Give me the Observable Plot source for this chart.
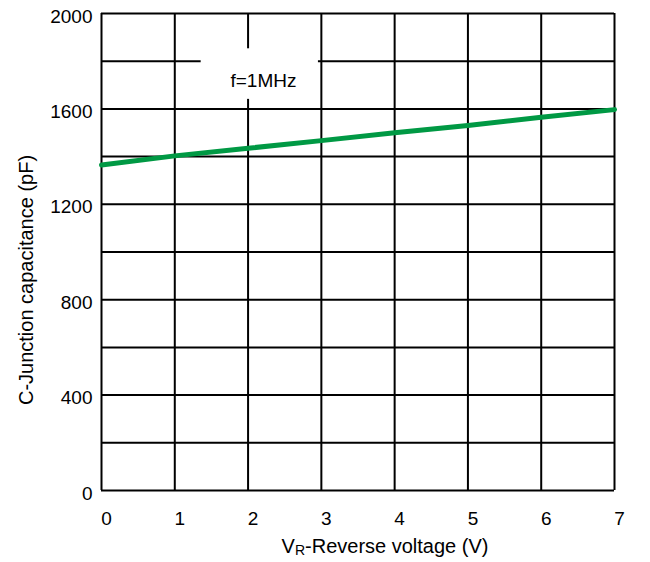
<!DOCTYPE html>
<html><head><meta charset="utf-8">
<script src="https://cdn.jsdelivr.net/npm/d3@7"></script>
<script src="https://cdn.jsdelivr.net/npm/@observablehq/plot@0.6"></script>
<style>body{margin:0;background:#fff}</style>
</head><body><div id="chart"></div>
<script>
const voltage = [0, 1, 2, 3, 4, 5, 6, 7];
const capacitance = [1365, 1403, 1435, 1467, 1500, 1530, 1565, 1597];
const xTicks = [0, 1, 2, 3, 4, 5, 6, 7];
const yGrid = [0, 200, 400, 600, 800, 1000, 1200, 1400, 1600, 1800, 2000];
const yTickLabels = [0, 400, 800, 1200, 1600, 2000];
const noteLabel = ["f=1MHz"];
const noteBox = [{x1: 1.36, x2: 2.96, y1: 1640, y2: 1852, x: 2.21, y: 1719}];
const yTitle = "C-Junction capacitance (pF)";
const xTitleMain = "V", xTitleSub = "R", xTitleRest = "-Reverse voltage (V)";

const data = voltage.map((v, i) => ({v, c: capacitance[i]}));
const font = "Liberation Sans, Arial, Helvetica, sans-serif";

const chart = Plot.plot({
  width: 650, height: 562,
  marginLeft: 101, marginRight: 36, marginTop: 13, marginBottom: 72,
  style: {fontFamily: font, background: "#fff", color: "#000"},
  x: {domain: [0, 7]},
  y: {domain: [0, 2000]},
  marks: [
    Plot.ruleX(xTicks, {stroke: "#000", strokeWidth: 2}),
    Plot.ruleY(yGrid, {stroke: "#000", strokeWidth: 2}),
    Plot.rect(noteBox, {x1: "x1", x2: "x2", y1: "y1", y2: "y2", fill: "#fff"}),
    Plot.text(noteBox, {x: "x", y: "y", text: () => noteLabel[0], fontSize: 19, fill: "#000"}),
    Plot.line(data, {x: "v", y: "c", stroke: "#009944", strokeWidth: 5}),
    Plot.axisX({ticks: xTicks, tickSize: 0, tickPadding: 21, dx: 5, fontSize: 19, label: null, tickFormat: d => String(d)}),
    Plot.axisY({ticks: yTickLabels, tickSize: 0, tickPadding: 9, dy: 3, fontSize: 19, label: null, tickFormat: d => String(d)})
  ]
});
document.getElementById("chart").appendChild(chart);

const svg = d3.select(chart);
const xt = svg.append("text")
  .attr("x", 385).attr("y", 553)
  .attr("text-anchor", "middle")
  .attr("font-family", font).attr("font-size", 20).attr("fill", "#000");
xt.append("tspan").text(xTitleMain);
xt.append("tspan").attr("font-size", 14).attr("dy", 2).text(xTitleSub);
xt.append("tspan").attr("dy", -2).text(xTitleRest);

svg.append("text")
  .attr("transform", "translate(33,280) rotate(-90)")
  .attr("text-anchor", "middle")
  .attr("font-family", font).attr("font-size", 20).attr("fill", "#000")
  .text(yTitle);
</script>
</body></html>
